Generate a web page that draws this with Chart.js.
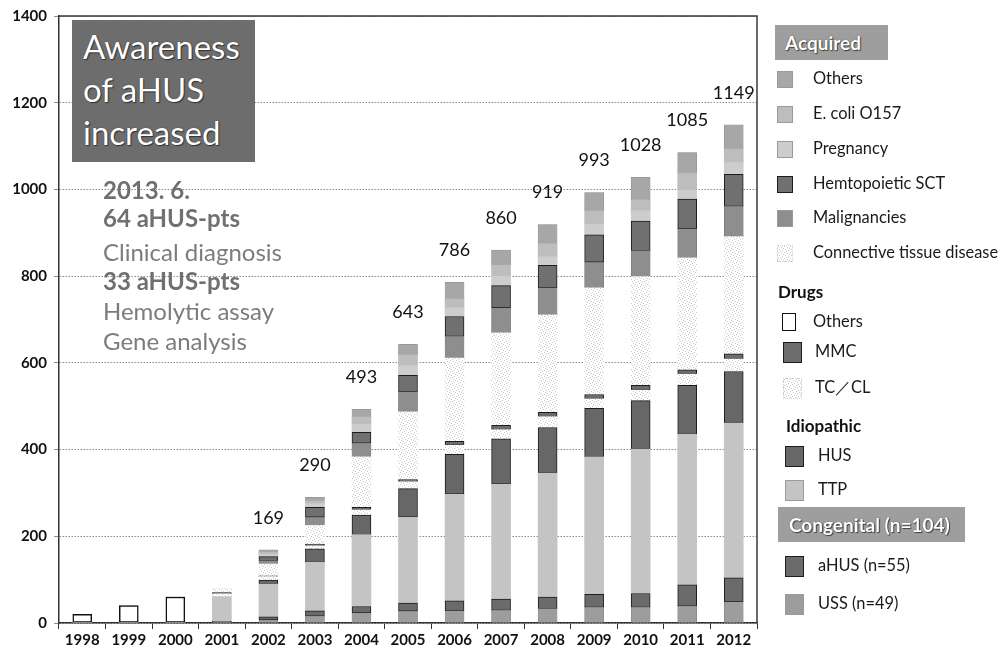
<!DOCTYPE html>
<html>
<head>
<meta charset="utf-8">
<script src="https://cdn.jsdelivr.net/npm/chart.js@4.4.1/dist/chart.umd.min.js"></script>
<style>
  html, body { margin: 0; padding: 0; background: #fff; }
  #wrap { position: relative; width: 1003px; height: 651px; overflow: hidden; font-family: Lato, "Open Sans", sans-serif; }
  #chart { position: absolute; left: 0; top: 0; }
  .callout { position: absolute; left: 72px; top: 20px; width: 183px; height: 142px; background: #6d6d6d;
             box-sizing: border-box; padding: 5px 0 0 11px; color: #fff; font-size: 33px; line-height: 43px;
             text-shadow: 0 0 1px #222, 1px 1px 1px #333; white-space: nowrap; }
  .note { position: absolute; left: 103px; font-size: 24px; color: #7c7c7c; white-space: nowrap; line-height: 1; }
  .note.b { font-weight: bold; color: #707070; }
  .lg-item { position: absolute; white-space: nowrap; color: #1a1a1a; font-size: 16.4px; line-height: 1; }
  .lg-sw { position: absolute; box-sizing: border-box; }
  .lg-head { position: absolute; font-weight: bold; font-size: 17px; color: #111; line-height: 1; white-space: nowrap; }
  .lg-box { position: absolute; background: #9e9e9e; color: #fff; font-weight: bold; font-size: 19px;
            box-sizing: border-box; display: flex; align-items: center; white-space: nowrap;
            text-shadow: 0 0 1px #333, 1px 1px 1px #444; }
</style>
</head>
<body>
<div id="wrap">
  <canvas id="chart" width="1003" height="651"></canvas>
  <div class="callout">Awareness<br>of aHUS<br>increased</div>
  <div id="notes"></div>
  <div id="legend"></div>
</div>
<script>
// Years on the category axis
const years = ['1998','1999','2000','2001','2002','2003','2004','2005','2006','2007','2008','2009','2010','2011','2012'];

// Cumulative patient counts per year, stacked from the bottom up
const ussCongenital  = [0, 0, 0, 2, 7, 16, 23, 27, 28, 29, 33, 36, 36, 39, 49];
const ahusCongenital = [0, 0, 0, 2, 7, 12, 15, 19, 23, 26, 27, 30, 32, 49, 55];
const ttpIdiopathic  = [0, 0, 0, 57, 76, 112, 166, 198, 246, 265, 286, 317, 333, 347, 357];
const husIdiopathic  = [0, 0, 0, 0, 9, 31, 45, 66, 92, 105, 105, 112, 112, 113, 119];
const tcclDrug       = [0, 0, 0, 6, 8, 7, 12, 16, 21, 21, 25, 22, 24, 26, 29];
const mmcDrug        = [0, 0, 0, 3, 2, 4, 6, 5, 9, 10, 10, 10, 11, 10, 12];
const otherDrug      = [20, 40, 60, 0, 0, 0, 0, 0, 0, 0, 0, 0, 0, 0, 0];
const connectiveTissue = [0, 0, 0, 8, 27, 43, 116, 156, 192, 213, 225, 246, 251, 258, 270];
const malignancies   = [0, 0, 0, 0, 8, 19, 32, 46, 50, 58, 62, 59, 60, 67, 70];
const hematopoieticSct = [0, 0, 0, 0, 9, 23, 25, 38, 46, 51, 52, 63, 68, 69, 74];
const pregnancy      = [0, 0, 0, 0, 5, 8, 18, 22, 20, 22, 20, 25, 24, 20, 27];
const ecoliO157      = [0, 0, 0, 0, 5, 7, 17, 25, 20, 25, 30, 30, 25, 40, 31];
const otherAcquired  = [0, 0, 0, 0, 6, 8, 18, 25, 39, 35, 44, 43, 52, 47, 56];

// Years whose stack total is printed above the bar
const totalLabelYears = ['2002','2003','2004','2005','2006','2007','2008','2009','2010','2011','2012'];

// Sparse dotted fill used for the pale categories
function dottedTile(bg, dot) {
  const c = document.createElement('canvas');
  c.width = 6; c.height = 6;
  const g = c.getContext('2d');
  g.fillStyle = bg; g.fillRect(0, 0, 6, 6);
  g.fillStyle = dot;
  [[0,0],[3,1],[1,3],[4,4],[5,2],[2,5]].forEach(([x, y]) => g.fillRect(x, y, 1, 1));
  return c;
}
const paleTile = dottedTile('#ffffff', '#c9c9c9');
const ctx = document.getElementById('chart').getContext('2d');
const paleFill = ctx.createPattern(paleTile, 'repeat');

const dark = '#1c1c1c';
function series(label, data, fill, border, bw, swatchCss) {
  return { label, data, backgroundColor: fill, borderColor: border || 'rgba(0,0,0,0)',
           borderWidth: bw || 0, borderSkipped: false, barThickness: 19, stack: 's', swatchCss };
}

const datasets = [
  series('USS (n=49)', ussCongenital, '#9d9d9d', '#7a7a7a', 0.5),
  series('aHUS (n=55)', ahusCongenital, '#6b6b6b', dark, 1),
  series('TTP', ttpIdiopathic, '#c4c4c4'),
  series('HUS', husIdiopathic, '#676767', dark, 1),
  series('TC／CL', tcclDrug, paleFill, null, 0, `url(${paleTile.toDataURL()})`),
  series('MMC', mmcDrug, '#6c6c6c', dark, 1),
  series('Others', otherDrug, '#ffffff', '#111111', 1.5),
  series('Connective tissue disease', connectiveTissue, paleFill, null, 0, `url(${paleTile.toDataURL()})`),
  series('Malignancies', malignancies, '#8e8e8e', '#6a6a6a', 0.5),
  series('Hemtopoietic SCT', hematopoieticSct, '#707070', dark, 1),
  series('Pregnancy', pregnancy, '#cdcdcd'),
  series('E. coli O157', ecoliO157, '#bdbdbd'),
  series('Others', otherAcquired, '#a7a7a7', '#8a8a8a', 0.5)
];

Chart.defaults.font.family = 'Lato, "Open Sans", sans-serif';

// Total count written above each stack
const totalsPlugin = {
  id: 'stackTotals',
  afterDatasetsDraw(chart) {
    const { ctx: c, scales: { x, y } } = chart;
    c.save();
    c.font = '18px Lato, sans-serif';
    c.fillStyle = '#111';
    c.textAlign = 'center';
    c.textBaseline = 'middle';
    totalLabelYears.forEach(yr => {
      const i = years.indexOf(yr);
      const total = chart.data.datasets.reduce((s, d) => s + d.data[i], 0);
      c.fillText(String(total), x.getPixelForValue(i), y.getPixelForValue(total) - 32);
    });
    c.restore();
  }
};

// Top and right edges of the plot frame
const framePlugin = {
  id: 'plotFrame',
  afterDraw(chart) {
    const { ctx: c, chartArea: a } = chart;
    c.save();
    c.strokeStyle = '#3a3a3a';
    c.lineWidth = 1.5;
    c.beginPath();
    c.moveTo(a.left, a.top);
    c.lineTo(a.right, a.top);
    c.lineTo(a.right, a.bottom);
    c.stroke();
    c.restore();
  }
};

const chart = new Chart(ctx, {
  type: 'bar',
  data: { labels: years, datasets },
  options: {
    responsive: false,
    animation: false,
    devicePixelRatio: 1,
    layout: { padding: { left: 0, right: 246, top: 16, bottom: 0 } },
    plugins: { legend: { display: false }, tooltip: { enabled: false } },
    scales: {
      x: {
        stacked: true,
        grid: { drawOnChartArea: false, drawTicks: true, tickLength: 6, color: '#333', offset: true },
        border: { color: '#333', width: 1.5 },
        ticks: { font: { size: 15, weight: 'bold' }, color: '#111', padding: 2, maxRotation: 0, autoSkip: false },
        afterFit(s) { s.height = 28; }
      },
      y: {
        stacked: true,
        min: 0, max: 1400,
        ticks: { stepSize: 200, font: { size: 15, weight: 'bold' }, color: '#111', padding: 7,
                 callback: v => String(v) },
        grid: { color: '#8c8c8c', lineWidth: 1, tickLength: 5 },
        border: { color: '#333', width: 1.5, dash: [1.5, 1.5] },
        afterFit(s) { s.width = 59; }
      }
    }
  },
  plugins: [totalsPlugin, framePlugin]
});

// Annotation text at the upper left of the plot
const notes = [
  ['2013. 6.', 190, true],
  ['64 aHUS-pts', 218, true],
  ['Clinical diagnosis', 252, false],
  ['33 aHUS-pts', 281, true],
  ['Hemolytic assay', 311, false],
  ['Gene analysis', 341, false]
];
const notesEl = document.getElementById('notes');
notes.forEach(([t, cy, bold]) => {
  const d = document.createElement('div');
  d.className = 'note' + (bold ? ' b' : '');
  d.textContent = t;
  d.style.top = (cy - 12) + 'px';
  notesEl.appendChild(d);
});

// Grouped legend on the right, built from the chart's datasets
const legendEl = document.getElementById('legend');
function headBox(text, left, top, w, h, pad) {
  const d = document.createElement('div');
  d.className = 'lg-box';
  Object.assign(d.style, { left: left + 'px', top: top + 'px', width: w + 'px', height: h + 'px', paddingLeft: pad + 'px' });
  d.textContent = text;
  legendEl.appendChild(d);
}
function head(text, left, cy) {
  const d = document.createElement('div');
  d.className = 'lg-head';
  Object.assign(d.style, { left: left + 'px', top: (cy - 9) + 'px' });
  d.textContent = text;
  legendEl.appendChild(d);
}
function item(dsIndex, cy, swLeft, swW, swH, textLeft) {
  const ds = chart.data.datasets[dsIndex];
  const sw = document.createElement('div');
  sw.className = 'lg-sw';
  const bg = ds.swatchCss ? ds.swatchCss : ds.backgroundColor;
  Object.assign(sw.style, {
    left: swLeft + 'px', top: (cy - swH / 2) + 'px', width: swW + 'px', height: swH + 'px',
    background: bg,
    border: ds.borderWidth >= 1 ? '1px solid ' + ds.borderColor : '1px solid #9a9a9a'
  });
  if (ds.swatchCss) sw.style.border = '1px dotted #d0d0d0';
  legendEl.appendChild(sw);
  const t = document.createElement('div');
  t.className = 'lg-item';
  Object.assign(t.style, { left: textLeft + 'px', top: (cy - 9) + 'px' });
  t.textContent = ds.label;
  legendEl.appendChild(t);
}

headBox('Acquired', 775, 25, 113, 35, 10);
item(12, 79, 777, 16, 17, 813);
item(11, 114, 777, 16, 17, 813);
item(10, 149, 777, 16, 17, 813);
item(9, 184, 777, 16, 17, 813);
item(8, 218, 777, 16, 17, 813);
item(7, 253, 777, 16, 17, 813);
head('Drugs', 778, 292);
item(6, 322, 782, 14, 18, 813);
item(5, 352, 783, 19, 21, 815);
item(4, 388, 783, 19, 21, 815);
head('Idiopathic', 786, 426);
item(3, 456, 785, 19, 21, 818);
item(2, 490, 785, 19, 21, 818);
headBox('Congenital (n=104)', 778, 507, 187, 35, 11);
item(1, 566, 785, 19, 21, 818);
item(0, 604, 785, 19, 21, 818);
</script>
</body>
</html>
